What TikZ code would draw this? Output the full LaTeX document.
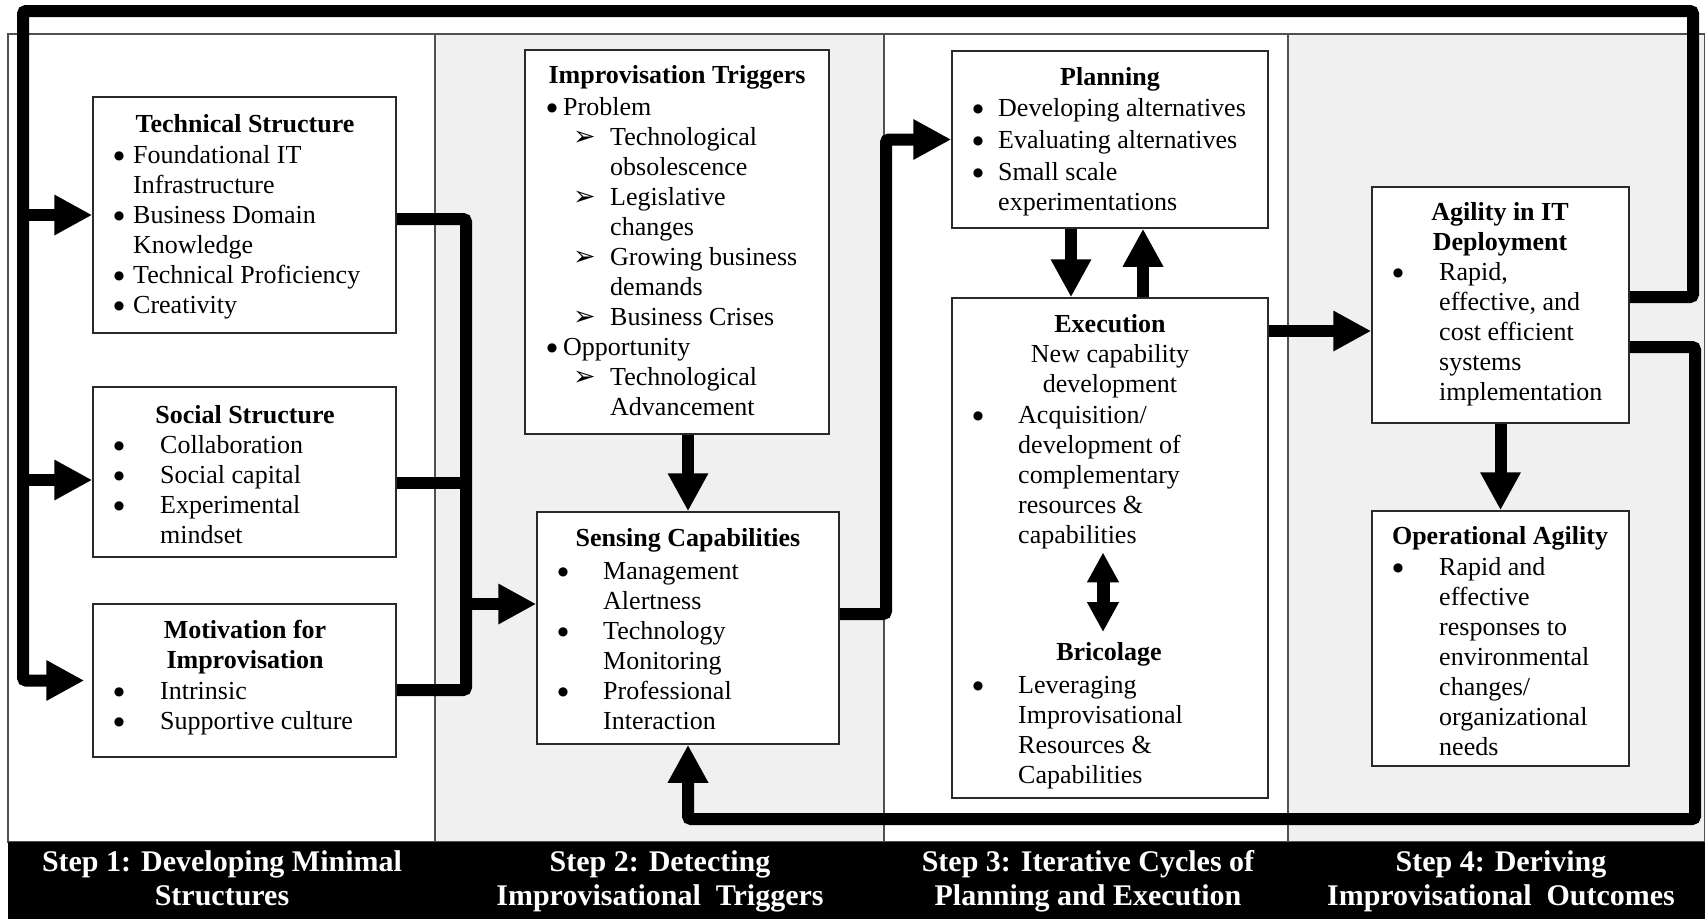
\documentclass[tikz,border=0pt]{standalone}
\usepackage{fontspec}
\setmainfont{Liberation Serif}
\newfontfamily\djv{DejaVu Sans}
\usetikzlibrary{arrows.meta}
\definecolor{colgrey}{HTML}{F0F0F0}
\definecolor{framec}{HTML}{505050}
\definecolor{boxc}{HTML}{2A2A2A}
\newcommand\bul[1]{\makebox[#1][l]{\raisebox{3.5pt}{\djv\fontsize{12}{30}\selectfont ●}}}
\newcommand\ind[1]{\hspace*{#1}}
\newcommand\arb{\makebox[37pt][l]{\djv\fontsize{27}{30}\selectfont ➢}}
\newcommand\mkbox[5]{\node[bx, minimum width={(#4)-(#2)}, minimum height={(#5)-(#3)}] (#1) at ({((#2)+(#4))/2},{((#3)+(#5))/2}) {};}
\begin{document}
\begin{tikzpicture}[x=1pt,y=-1pt,
  bx/.style={draw=boxc, line width=1.5pt, fill=white, inner sep=0pt, rectangle},
  hdr/.style={font=\fontsize{26}{30}\selectfont, align=center, anchor=north, inner sep=0pt},
  body/.style={font=\fontsize{26}{30}\selectfont, align=left, anchor=north west, inner sep=0pt},
  conn/.style={line width=12pt, rounded corners=3pt},
  arr/.style={conn, -{Triangle[length=38pt,width=38pt]}},
  dbl/.style={line width=13pt, {Triangle[length=30pt,width=30pt]}-{Triangle[length=30pt,width=30pt]}},
  steplbl/.style={font=\fontsize{30}{34}\selectfont\bfseries, text=white, align=center, anchor=north, inner sep=0pt}
]
\useasboundingbox (0,0) rectangle (1705,919);
% background columns
\fill[white] (0,0) rectangle (1705,919);
\fill[colgrey] (435,34) rectangle (884,842);
\fill[colgrey] (1288,34) rectangle (1705,842);
\draw[framec, line width=1.5pt] (8,34) rectangle (1705,842);
\draw[framec, line width=1.5pt] (435,34) -- (435,842);
\draw[framec, line width=1.5pt] (884,34) -- (884,842);
\draw[framec, line width=1.5pt] (1288,34) -- (1288,842);
\fill[black] (8,842) rectangle (1705,919);

% step labels
\node[steplbl] (s1) at (222,847) {\strut Step 1: Developing Minimal\\\strut Structures};
\node[steplbl] (s2) at (660,847) {\strut Step 2: Detecting\\\strut Improvisational\ \ Triggers};
\node[steplbl] (s3) at (1088,847) {\strut Step 3: Iterative Cycles of\\\strut Planning and Execution};
\node[steplbl] (s4) at (1501,847) {\strut Step 4: Deriving\\\strut Improvisational\ \ Outcomes};

% boxes
\mkbox{tech}{93}{97}{396}{333}
\mkbox{social}{93}{387}{396}{557}
\mkbox{motiv}{93}{604}{396}{757}
\mkbox{trig}{525}{50}{829}{434}
\mkbox{sens}{537}{512}{839}{744}
\mkbox{plan}{952}{51}{1268}{228}
\mkbox{exec}{952}{298}{1268}{798}
\mkbox{agil}{1372}{187}{1629}{423}
\mkbox{oper}{1372}{511}{1629}{766}

% technical structure
\node[hdr] (techT) at (245,111) {\strut\textbf{Technical Structure}};
\node[body] (techB) at (113.6,142) {\strut\bul{19.4pt}Foundational IT\\
\strut\ind{19.4pt}Infrastructure\\
\strut\bul{19.4pt}Business Domain\\
\strut\ind{19.4pt}Knowledge\\
\strut\bul{19.4pt}Technical Proficiency\\
\strut\bul{19.4pt}Creativity};

% social structure
\node[hdr] (socT) at (245,402) {\strut\textbf{Social Structure}};
\node[body] (socB) at (113.6,432) {\strut\bul{46.4pt}Collaboration\\
\strut\bul{46.4pt}Social capital\\
\strut\bul{46.4pt}Experimental\\
\strut\ind{46.4pt}mindset};

% motivation
\node[hdr] (motT) at (245,617) {\strut\textbf{Motivation for}\\\strut\textbf{Improvisation}};
\node[body] (motB) at (113.6,678) {\strut\bul{46.4pt}Intrinsic\\
\strut\bul{46.4pt}Supportive culture};

% triggers
\node[hdr] (trigT) at (677,62) {\strut\textbf{Improvisation Triggers}};
\node[body] (trigB) at (546.6,94) {\strut\bul{16.4pt}Problem\\
\strut\ind{26.4pt}\arb Technological\\
\strut\ind{63.4pt}obsolescence\\
\strut\ind{26.4pt}\arb Legislative\\
\strut\ind{63.4pt}changes\\
\strut\ind{26.4pt}\arb Growing business\\
\strut\ind{63.4pt}demands\\
\strut\ind{26.4pt}\arb Business Crises\\
\strut\bul{16.4pt}Opportunity\\
\strut\ind{26.4pt}\arb Technological\\
\strut\ind{63.4pt}Advancement};

% sensing
\node[hdr] (sensT) at (688,525) {\strut\textbf{Sensing Capabilities}};
\node[body] (sensB) at (557.6,558) {\strut\bul{45.4pt}Management\\
\strut\ind{45.4pt}Alertness\\
\strut\bul{45.4pt}Technology\\
\strut\ind{45.4pt}Monitoring\\
\strut\bul{45.4pt}Professional\\
\strut\ind{45.4pt}Interaction};

% planning
\node[hdr] (planT) at (1110,64) {\strut\textbf{Planning}};
\node[body] (planB) at (972.6,95) {\strut\bul{25.4pt}Developing alternatives\\[2pt]
\strut\bul{25.4pt}Evaluating alternatives\\[2pt]
\strut\bul{25.4pt}Small scale\\
\strut\ind{25.4pt}experimentations};

% execution
\node[hdr] (execT) at (1110,311) {\strut\textbf{Execution}\\\strut New capability\\\strut development};
\node[body] (execB) at (972.6,402) {\strut\bul{45.4pt}Acquisition/\\
\strut\ind{45.4pt}development of\\
\strut\ind{45.4pt}complementary\\
\strut\ind{45.4pt}resources \&\\
\strut\ind{45.4pt}capabilities};

% bricolage
\node[hdr] (bricT) at (1109,639) {\strut\textbf{Bricolage}};
\node[body] (bricB) at (972.6,672) {\strut\bul{45.4pt}Leveraging\\
\strut\ind{45.4pt}Improvisational\\
\strut\ind{45.4pt}Resources \&\\
\strut\ind{45.4pt}Capabilities};

% agility in IT deployment
\node[hdr] (agilT) at (1500,199) {\strut\textbf{Agility in IT}\\\strut\textbf{Deployment}};
\node[body] (agilB) at (1392.6,259) {\strut\bul{46.4pt}Rapid,\\
\strut\ind{46.4pt}effective, and\\
\strut\ind{46.4pt}cost efficient\\
\strut\ind{46.4pt}systems\\
\strut\ind{46.4pt}implementation};

% operational agility
\node[hdr] (operT) at (1500,523) {\strut\textbf{Operational Agility}};
\node[body] (operB) at (1392.6,554) {\strut\bul{46.4pt}Rapid and\\
\strut\ind{46.4pt}effective\\
\strut\ind{46.4pt}responses to\\
\strut\ind{46.4pt}environmental\\
\strut\ind{46.4pt}changes/\\
\strut\ind{46.4pt}organizational\\
\strut\ind{46.4pt}needs};

% coordinates for connector corners and ends
\coordinate (c1) at (1693,11);
\coordinate (c2) at (23,11);
\coordinate (c3) at (1695,819);
\coordinate (j) at (466,604);
\coordinate (sp) at (886,139.5);
\coordinate (dbx) at (1103,0);
\coordinate (sw) at ([yshift=-8pt]social.west);
\coordinate (se) at ([yshift=-11pt]social.east);
\coordinate (ea) at ([yshift=-26pt]agil.west);

% top feedback loop
\draw[arr] ([yshift=8pt]agil.east) -| (c1) -- (c2) |- ([xshift=-8pt]motiv.west);
\draw[arr] (c2 |- tech.west) -- (tech.west);
\draw[arr] (c2 |- sw) -- (sw);

% step 1 boxes to sensing
\draw[conn] ([yshift=-4pt]tech.east) -| (j);
\draw[conn] ([yshift=-9.5pt]motiv.east) -| (j);
\draw[conn] (se) -- (se -| j);
\draw[arr] (j) -- ([yshift=24pt]sens.west);

% triggers to sensing
\draw[arr] (trig.south -| sens.north) -- (sens.north);

% sensing to planning
\draw[arr] ([yshift=14pt]sens.east) -| (sp) -- (plan.west);

% planning <-> execution
\draw[arr] ([xshift=-39pt]plan.south) -- ([xshift=-39pt]exec.north);
\draw[arr] ([xshift=33pt]exec.north) -- ([xshift=33pt]plan.south);

% execution <-> bricolage
\draw[dbl, shorten >=7pt] (execB.south -| dbx) -- (bricT.north -| dbx);

% execution to agility
\draw[arr] (exec.east |- ea) -- (ea);

% agility to operational
\draw[arr] (agil.south) -- (oper.north);

% bottom feedback loop
\draw[arr] ([yshift=-42pt]agil.east) -| (c3) -| (sens.south);
\end{tikzpicture}
\end{document}
